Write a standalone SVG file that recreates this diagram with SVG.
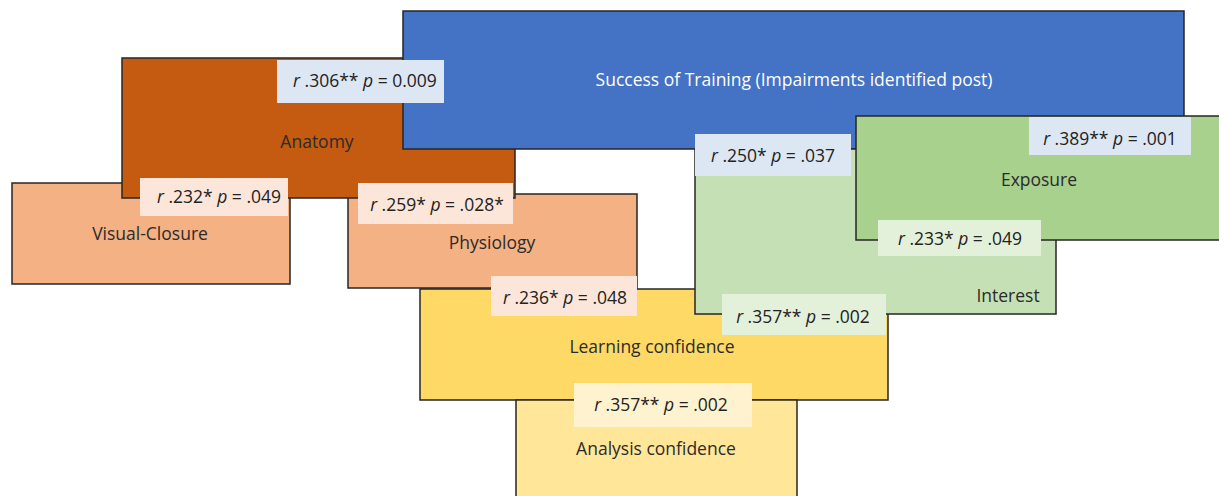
<svg xmlns="http://www.w3.org/2000/svg" width="1219" height="496" viewBox="0 0 1219 496">
<style>
.box{stroke:#262626;stroke-width:1.5}
.nt{font-family:"Open Sans","Liberation Sans",sans-serif;font-size:17.5px;fill:#2b2b2b;text-anchor:middle}
.lt{font-family:"Open Sans","Liberation Sans",sans-serif;font-size:17.5px;font-weight:500;fill:#222222;text-anchor:middle}
.i{font-style:italic}
.lb-blue{fill:#dde7f4}
.lb-or{fill:#fbe6d9}
.lb-gr{fill:#e3f0da}
.lb-ye{fill:#fff2cf}
</style>
<rect x="0" y="0" width="1219" height="496" fill="#ffffff"/>
<g id="node-visual-closure">
<rect class="box" x="12" y="183" width="278" height="101" fill="#f4b183"/>
<text class="nt" x="150" y="240">Visual-Closure</text>
</g>
<g id="node-physiology">
<rect class="box" x="348" y="194" width="289" height="94" fill="#f4b183"/>
<text class="nt" x="492" y="249">Physiology</text>
</g>
<g id="node-anatomy">
<rect class="box" x="122" y="58" width="393" height="140" fill="#c55a11"/>
<text class="nt" x="317" y="148">Anatomy</text>
</g>
<g id="node-learning-confidence">
<rect class="box" x="420" y="289" width="468" height="111" fill="#ffd966"/>
<text class="nt" x="652" y="353">Learning confidence</text>
</g>
<g id="node-analysis-confidence">
<rect class="box" x="516" y="400" width="281" height="100" fill="#ffe699"/>
<text class="nt" x="656" y="455">Analysis confidence</text>
</g>
<g id="node-success">
<rect class="box" x="403" y="11" width="781" height="138" fill="#4472c4"/>
<text class="nt" x="794" y="86" style="fill:#ffffff">Success of Training (Impairments identified post)</text>
</g>
<g id="node-interest">
<rect class="box" x="695" y="149" width="361" height="165" fill="#c5e0b4"/>
<text class="nt" x="1008" y="302">Interest</text>
</g>
<g id="node-exposure">
<rect class="box" x="856" y="116" width="370" height="124" fill="#a9d18e"/>
<text class="nt" x="1039" y="186">Exposure</text>
</g>
<g id="connectors">
<g id="link-anatomy-success">
<rect class="lb-blue" x="277" y="60" width="167" height="43"/>
<text class="lt" x="365" y="87"><tspan class="i">r</tspan> .306** <tspan class="i">p</tspan> = 0.009</text>
</g>
<g id="link-visual-anatomy">
<rect class="lb-or" x="140" y="178" width="148" height="38"/>
<text class="lt" x="219" y="203"><tspan class="i">r</tspan> .232* <tspan class="i">p</tspan> = .049</text>
</g>
<g id="link-physiology-anatomy">
<rect class="lb-or" x="358" y="183" width="155" height="41"/>
<text class="lt" x="437" y="211"><tspan class="i">r</tspan> .259* <tspan class="i">p</tspan> = .028*</text>
</g>
<g id="link-learning-physiology">
<rect class="lb-or" x="491" y="276" width="146" height="40"/>
<text class="lt" x="565" y="304"><tspan class="i">r</tspan> .236* <tspan class="i">p</tspan> = .048</text>
</g>
<g id="link-learning-interest">
<rect class="lb-gr" x="722" y="294" width="164" height="41"/>
<text class="lt" x="803" y="323"><tspan class="i">r</tspan> .357** <tspan class="i">p</tspan> = .002</text>
</g>
<g id="link-analysis-learning">
<rect class="lb-ye" x="574" y="383" width="178" height="44"/>
<text class="lt" x="661" y="411"><tspan class="i">r</tspan> .357** <tspan class="i">p</tspan> = .002</text>
</g>
<g id="link-interest-success">
<rect class="lb-blue" x="695" y="134" width="156" height="42"/>
<text class="lt" x="773" y="162"><tspan class="i">r</tspan> .250* <tspan class="i">p</tspan> = .037</text>
</g>
<g id="link-exposure-success">
<rect class="lb-blue" x="1029" y="117" width="162" height="38"/>
<text class="lt" x="1110" y="145"><tspan class="i">r</tspan> .389** <tspan class="i">p</tspan> = .001</text>
</g>
<g id="link-exposure-interest">
<rect class="lb-gr" x="878" y="220" width="163" height="36"/>
<text class="lt" x="960" y="245"><tspan class="i">r</tspan> .233* <tspan class="i">p</tspan> = .049</text>
</g>
</g>
</svg>
